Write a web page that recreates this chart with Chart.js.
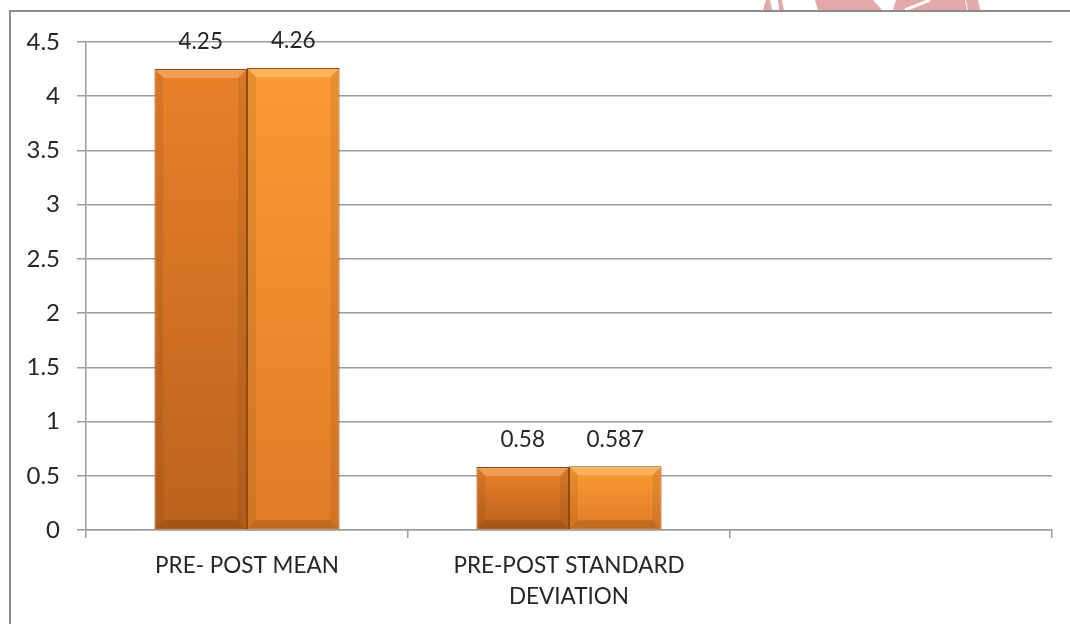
<!DOCTYPE html>
<html>
<head>
<meta charset="utf-8">
<script src="https://cdn.jsdelivr.net/npm/chart.js@4/dist/chart.umd.min.js"></script>
<style>
  html, body { margin: 0; padding: 0; width: 1070px; height: 624px; overflow: hidden; background: #fff; }
  #wrap { position: absolute; left: 0; top: 0; width: 1070px; height: 624px; }
  #frame { position: absolute; left: 9px; top: 10px; width: 2000px; height: 2000px;
           border-top: 2px solid #8C8C8C; border-left: 2px solid #8C8C8C; }
  canvas { position: absolute; left: 0; top: 0; }
</style>
</head>
<body>
<div id="wrap">
  <div id="frame"></div>
  <canvas id="c" width="1070" height="624"></canvas>
</div>
<script>
// ---- data ----
const categories = ['PRE- POST MEAN', ['PRE-POST STANDARD', 'DEVIATION'], ''];
const preValues  = [4.25, 0.58, null];
const postValues = [4.26, 0.587, null];
const yTickLabels = ['0', '0.5', '1', '1.5', '2', '2.5', '3', '3.5', '4', '4.5'];

const FONT = 'Lato, "Open Sans", sans-serif';
const TEXT = '#262626';
const GRID = '#9C9C9C';

function barGradient(ctx, top, bottom) {
  const chart = ctx.chart;
  if (!chart.chartArea || ctx.raw == null) return top;
  const y = chart.scales.y;
  const yt = y.getPixelForValue(ctx.raw);
  const yb = y.getPixelForValue(0);
  if (!isFinite(yt) || !isFinite(yb) || yt === yb) return top;
  const g = chart.ctx.createLinearGradient(0, yt, 0, yb);
  g.addColorStop(0, top);
  g.addColorStop(1, bottom);
  return g;
}

const watermark = {
  id: 'watermark',
  beforeDraw(chart) {
    const c = chart.ctx;
    c.save();
    c.beginPath(); c.rect(0, 0, 1070, 10); c.clip();
    c.fillStyle = '#E3A8A8';
    const parts = [[763, 772, 766, 770], [779, 784, 778, 782], [818, 882, 815, 873], [893, 967, 896, 965], [968, 980, 966, 978]];
    parts.forEach(p => {
      c.beginPath();
      c.moveTo(p[2], 0); c.lineTo(p[3], 0); c.lineTo(p[1], 10); c.lineTo(p[0], 10); c.closePath(); c.fill();
    });
    c.strokeStyle = '#fff'; c.lineWidth = 3;
    c.beginPath(); c.moveTo(905, 10); c.lineTo(930, 0); c.stroke();
    c.restore();
  }
};

const bevel = {
  id: 'bevel',
  afterDatasetsDraw(chart) {
    const c = chart.ctx;
    chart.data.datasets.forEach((ds, di) => {
      const meta = chart.getDatasetMeta(di);
      meta.data.forEach((bar, i) => {
        if (ds.data[i] == null) return;
        const p = bar.getProps(['x', 'y', 'base', 'width'], true);
        const l = p.x - p.width / 2 + 1, r = p.x + p.width / 2 - 1;
        const t = p.y + 1, b = p.base - 1;
        const s = Math.min(8, (b - t) / 3);
        c.save();
        c.fillStyle = 'rgba(255,235,190,0.30)';
        c.beginPath(); c.moveTo(l, t); c.lineTo(r, t); c.lineTo(r - s, t + s); c.lineTo(l + s, t + s); c.closePath(); c.fill();
        c.fillStyle = 'rgba(80,35,0,0.22)';
        c.beginPath(); c.moveTo(l, b); c.lineTo(r, b); c.lineTo(r - s, b - s); c.lineTo(l + s, b - s); c.closePath(); c.fill();
        c.fillStyle = 'rgba(80,35,0,0.10)';
        c.beginPath(); c.moveTo(l, t); c.lineTo(l + s, t + s); c.lineTo(l + s, b - s); c.lineTo(l, b); c.closePath(); c.fill();
        c.beginPath(); c.moveTo(r, t); c.lineTo(r - s, t + s); c.lineTo(r - s, b - s); c.lineTo(r, b); c.closePath(); c.fill();
        c.restore();
      });
    });
  }
};

const valueLabels = {
  id: 'valueLabels',
  afterDatasetsDraw(chart) {
    const c = chart.ctx;
    c.save();
    c.font = '22.5px ' + FONT;
    c.fillStyle = TEXT;
    c.textAlign = 'center';
    c.textBaseline = 'middle';
    chart.data.datasets.forEach((ds, di) => {
      const meta = chart.getDatasetMeta(di);
      meta.data.forEach((bar, i) => {
        const v = ds.data[i];
        if (v == null) return;
        c.fillText(String(v), bar.x, bar.y - 27);
      });
    });
    c.restore();
  }
};

new Chart(document.getElementById('c'), {
  type: 'bar',
  data: {
    labels: categories,
    datasets: [
      {
        label: 'Pre',
        data: preValues,
        backgroundColor: ctx => barGradient(ctx, '#E9812A', '#BA621E'),
        borderColor: '#8E4C14',
        borderWidth: 1,
        categoryPercentage: 0.575,
        barPercentage: 1
      },
      {
        label: 'Post',
        data: postValues,
        backgroundColor: ctx => barGradient(ctx, '#FA9B34', '#DF7C28'),
        borderColor: '#8E4C14',
        borderWidth: 1,
        categoryPercentage: 0.575,
        barPercentage: 1
      }
    ]
  },
  options: {
    responsive: false,
    animation: false,
    devicePixelRatio: 1,
    layout: { padding: { top: 42, right: 18, bottom: 0, left: 0 } },
    plugins: { legend: { display: false }, tooltip: { enabled: false } },
    scales: {
      x: {
        offset: true,
        grid: { display: true, drawOnChartArea: false, drawTicks: true, tickLength: 8, color: GRID, lineWidth: 1.5, offset: true },
        border: { display: true, color: GRID, width: 1.5 },
        ticks: { color: TEXT, font: { family: FONT, size: 22.5, lineHeight: 1.35 }, padding: 13, maxRotation: 0, autoSkip: false },
        afterFit(scale) { scale.height = 94; }
      },
      y: {
        min: 0, max: 4.5,
        grid: { color: GRID, lineWidth: 1.5, drawTicks: true, tickLength: 9 },
        border: { display: true, color: GRID, width: 1.5 },
        ticks: {
          stepSize: 0.5, color: TEXT, padding: 17,
          font: { family: FONT, size: 24 },
          callback: (v, i) => yTickLabels[i]
        },
        afterFit(scale) { scale.width = 86; }
      }
    }
  },
  plugins: [watermark, bevel, valueLabels]
});
</script>
</body>
</html>
